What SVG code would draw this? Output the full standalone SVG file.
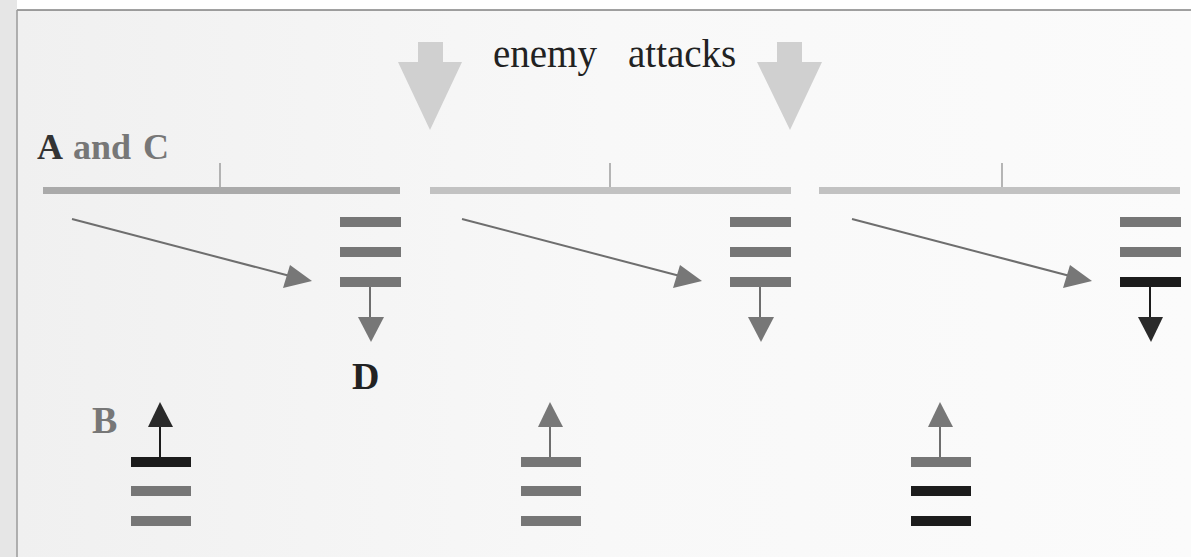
<svg xmlns="http://www.w3.org/2000/svg" width="1191" height="557" viewBox="0 0 1191 557">
<defs>
<linearGradient id="bg" x1="0" y1="0" x2="1" y2="0">
<stop offset="0" stop-color="#f0f0f0"/>
<stop offset="0.5" stop-color="#f8f8f8"/>
<stop offset="1" stop-color="#fbfbfb"/>
</linearGradient>
</defs>
<style>
.bar{fill:#767676}
.dark{fill:#1c1c1c}
.hl{fill:#c2c2c2}
.tick{stroke:#888;stroke-width:1.2}
.big{fill:#d0d0d0}
.conn{stroke:#6e6e6e;stroke-width:2;fill:none}
.head{fill:#777}
.headd{fill:#2a2a2a}
.lbl{font-family:"Liberation Serif","Times New Roman",serif;font-weight:bold}
</style>
<rect x="0" y="0" width="1191" height="557" fill="#ffffff"/>
<rect x="0" y="0" width="17" height="557" fill="#e6e6e6"/>
<rect x="17" y="10" width="1174" height="547" fill="url(#bg)"/>
<line x1="17" y1="10" x2="1191" y2="10" stroke="#444" stroke-width="1.2"/>
<line x1="17" y1="10" x2="17" y2="557" stroke="#9a9a9a" stroke-width="1.5"/>

<g id="title">
<text x="493" y="67" font-family="'Liberation Serif','Times New Roman',serif" font-size="39" fill="#222">enemy<tspan x="628">attacks</tspan></text>
</g>
<g id="attack-left">
<path class="big" d="M418,42 H443 V62 H462 L430,130 L398,62 H418 Z"/>
</g>
<g id="attack-right">
<path class="big" d="M777,42 H802 V62 H822 L790,130 L757,62 H777 Z"/>
</g>

<g id="label-AC"><text class="lbl" x="37" y="159" font-size="36" word-spacing="3" fill="#777"><tspan fill="#333">A</tspan> and C</text></g>
<g id="label-D"><text class="lbl" x="352" y="389" font-size="38" fill="#222">D</text></g>
<g id="label-B"><text class="lbl" x="92" y="433" font-size="38" fill="#777">B</text></g>

<g id="front-1">
<rect x="43" y="187" width="357" height="7" fill="#aaaaaa"/>
<line class="tick" x1="220" y1="163" x2="220" y2="187"/>
</g>
<g id="front-2">
<rect class="hl" x="430" y="187" width="361" height="7"/>
<line class="tick" x1="610" y1="163" x2="610" y2="187"/>
</g>
<g id="front-3">
<rect class="hl" x="819" y="187" width="361" height="7"/>
<line class="tick" x1="1002" y1="163" x2="1002" y2="187"/>
</g>

<g id="stack-1">
<rect class="bar" x="340" y="217" width="61" height="10"/>
<rect class="bar" x="340" y="247" width="61" height="10"/>
<rect class="bar" x="340" y="277" width="61" height="10"/>
</g>
<g id="stack-2">
<rect class="bar" x="730" y="217" width="61" height="10"/>
<rect class="bar" x="730" y="247" width="61" height="10"/>
<rect class="bar" x="730" y="277" width="61" height="10"/>
</g>
<g id="stack-3">
<rect class="bar" x="1120" y="217" width="61" height="10"/>
<rect class="bar" x="1120" y="247" width="61" height="10"/>
<rect class="dark" x="1120" y="277" width="61" height="10"/>
</g>

<g id="stack-B1">
<rect class="dark" x="131" y="457" width="60" height="10"/>
<rect class="bar" x="131" y="486" width="60" height="10"/>
<rect class="bar" x="131" y="516" width="60" height="10"/>
</g>
<g id="stack-B2">
<rect class="bar" x="521" y="457" width="60" height="10"/>
<rect class="bar" x="521" y="486" width="60" height="10"/>
<rect class="bar" x="521" y="516" width="60" height="10"/>
</g>
<g id="stack-B3">
<rect class="bar" x="911" y="457" width="60" height="10"/>
<rect class="dark" x="911" y="486" width="60" height="10"/>
<rect class="dark" x="911" y="516" width="60" height="10"/>
</g>

<g id="connectors">
<line class="conn" x1="72" y1="219" x2="290" y2="276"/>
<path class="head" d="M312,281 L283,288 L290,265 Z"/>
<line class="conn" x1="462" y1="219" x2="680" y2="276"/>
<path class="head" d="M702,281 L673,288 L680,265 Z"/>
<line class="conn" x1="852" y1="219" x2="1070" y2="276"/>
<path class="head" d="M1092,281 L1063,288 L1070,265 Z"/>

<line class="conn" x1="370" y1="287" x2="370" y2="318"/>
<path class="head" d="M358,317 H384 L371,342 Z"/>
<line class="conn" x1="760" y1="287" x2="760" y2="318"/>
<path class="head" d="M748,317 H774 L761,342 Z"/>
<line x1="1150" y1="287" x2="1150" y2="318" stroke="#1c1c1c" stroke-width="2"/>
<path class="headd" d="M1138,317 H1163 L1151,342 Z"/>

<line x1="160" y1="457" x2="160" y2="426" stroke="#1c1c1c" stroke-width="2"/>
<path class="headd" d="M148,427 H173 L160,402 Z"/>
<line class="conn" x1="550" y1="457" x2="550" y2="426"/>
<path class="head" d="M538,427 H563 L550,402 Z"/>
<line class="conn" x1="940" y1="457" x2="940" y2="426"/>
<path class="head" d="M928,427 H953 L940,402 Z"/>
</g>
</svg>
